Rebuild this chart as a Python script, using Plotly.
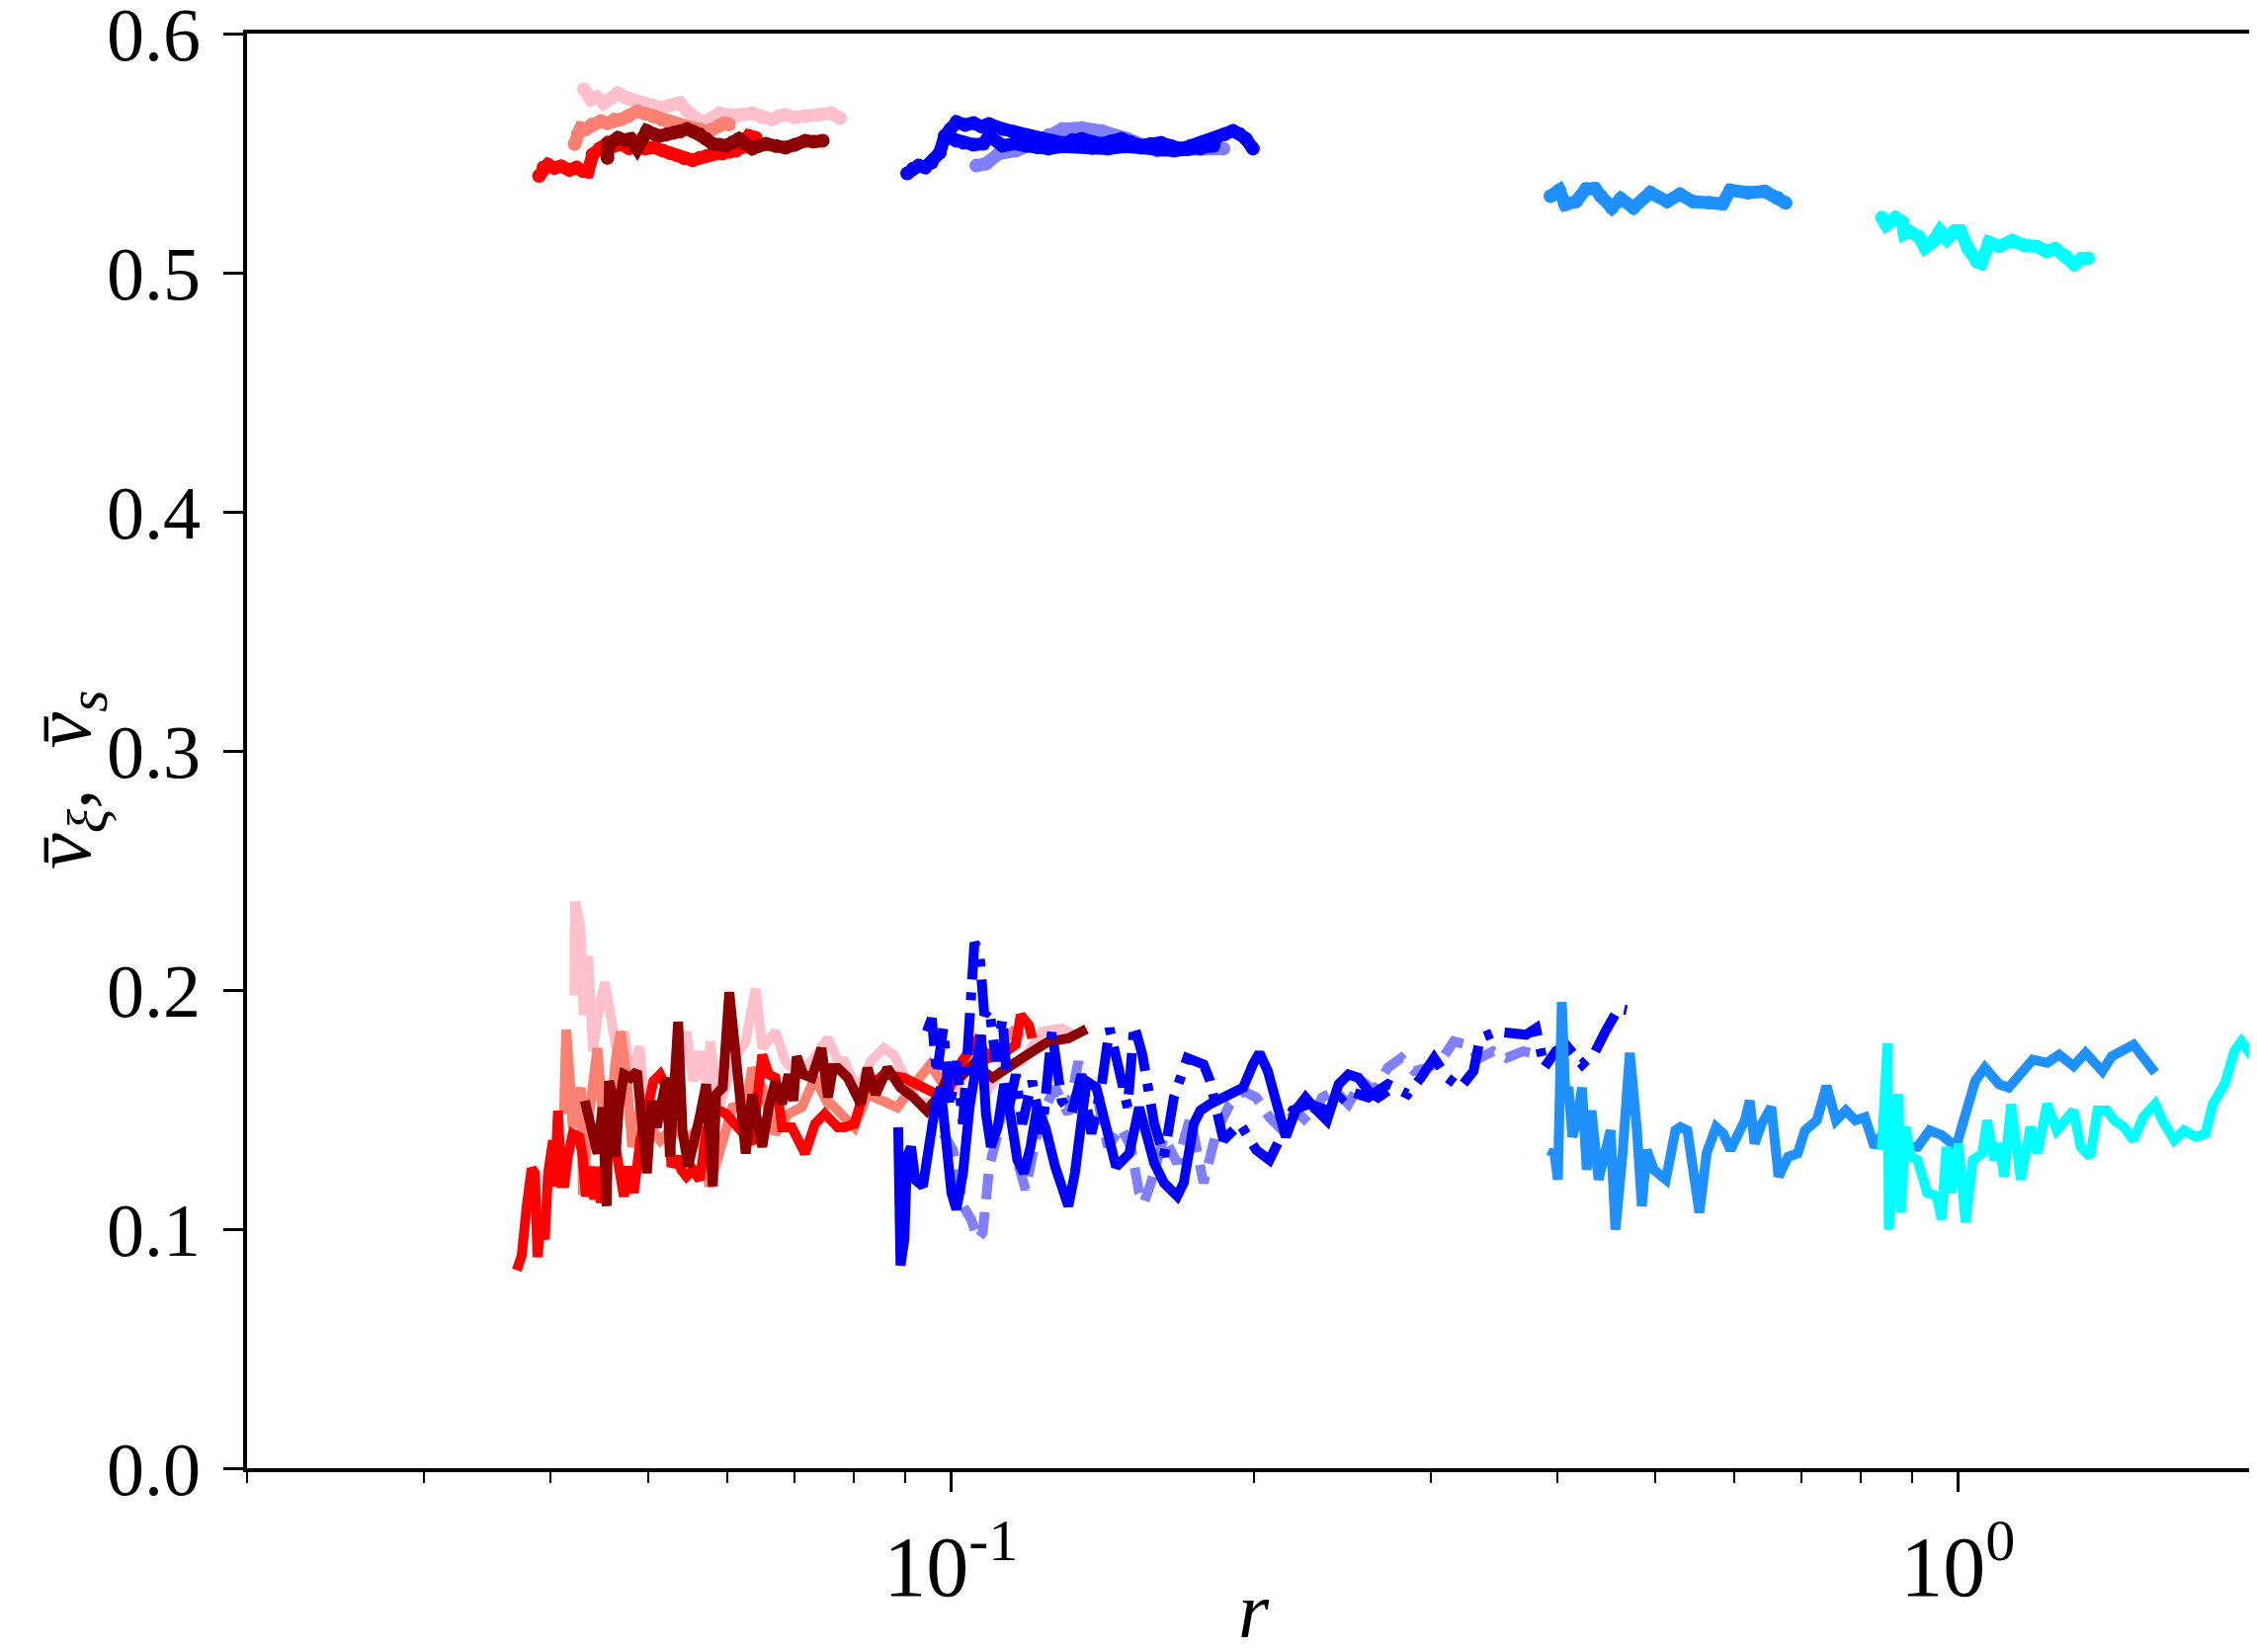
import plotly.graph_objects as go
import math

# ---------------- upper group (v_xi) ----------------
red_top_r = [0.0390, 0.0394, 0.0398, 0.0404, 0.0410, 0.0418, 0.0425, 0.0431, 0.0436, 0.0441, 0.0448, 0.0456, 0.0463, 0.0470, 0.0479, 0.0488, 0.0497, 0.0507, 0.0518, 0.0526, 0.0535, 0.0544, 0.0554, 0.0563, 0.0572, 0.0583, 0.0593, 0.0603, 0.0612, 0.0621, 0.0630, 0.0640]
red_top_v = [0.5405, 0.5440, 0.5452, 0.5438, 0.5445, 0.5430, 0.5440, 0.5425, 0.5422, 0.5495, 0.5520, 0.5543, 0.5530, 0.5538, 0.5520, 0.5531, 0.5519, 0.5524, 0.5510, 0.5500, 0.5490, 0.5478, 0.5470, 0.5480, 0.5488, 0.5498, 0.5498, 0.5505, 0.5510, 0.5525, 0.5572, 0.5564]

salmon_top_r = [0.0423, 0.0426, 0.0429, 0.0434, 0.0440, 0.0449, 0.0456, 0.0463, 0.0470, 0.0478, 0.0488, 0.0497, 0.0506, 0.0516, 0.0526, 0.0540, 0.0554, 0.0563, 0.0572, 0.0580, 0.0589, 0.0596, 0.0602]
salmon_top_v = [0.5538, 0.5580, 0.5605, 0.5600, 0.5620, 0.5634, 0.5625, 0.5640, 0.5640, 0.5655, 0.5675, 0.5665, 0.5655, 0.5640, 0.5620, 0.5615, 0.5605, 0.5600, 0.5590, 0.5600, 0.5615, 0.5625, 0.5620]

pink_top_r = [0.0432, 0.0439, 0.0445, 0.0452, 0.0460, 0.0467, 0.0474, 0.0481, 0.0488, 0.0495, 0.0505, 0.0514, 0.0526, 0.0538, 0.0546, 0.0554, 0.0567, 0.0578, 0.0589, 0.0600, 0.0612, 0.0624, 0.0635, 0.0650, 0.0664, 0.0675, 0.0685, 0.0700, 0.0717, 0.0738, 0.0760, 0.0776]
pink_top_v = [0.5767, 0.5725, 0.5735, 0.5708, 0.5730, 0.5750, 0.5735, 0.5725, 0.5715, 0.5710, 0.5700, 0.5690, 0.5700, 0.5710, 0.5680, 0.5655, 0.5626, 0.5645, 0.5667, 0.5660, 0.5655, 0.5662, 0.5667, 0.5650, 0.5640, 0.5655, 0.5660, 0.5650, 0.5655, 0.5660, 0.5667, 0.5647]

darkred_top_r = [0.0456, 0.0457, 0.0462, 0.0467, 0.0474, 0.0481, 0.0488, 0.0494, 0.0499, 0.0507, 0.0514, 0.0522, 0.0530, 0.0538, 0.0547, 0.0555, 0.0563, 0.0571, 0.0580, 0.0589, 0.0598, 0.0607, 0.0616, 0.0625, 0.0635, 0.0645, 0.0655, 0.0670, 0.0685, 0.0700, 0.0717, 0.0731, 0.0746]
darkred_top_v = [0.5480, 0.5539, 0.5550, 0.5564, 0.5555, 0.5560, 0.5519, 0.5560, 0.5593, 0.5580, 0.5572, 0.5578, 0.5585, 0.5590, 0.5601, 0.5590, 0.5580, 0.5560, 0.5539, 0.5535, 0.5531, 0.5545, 0.5560, 0.5540, 0.5519, 0.5530, 0.5539, 0.5530, 0.5523, 0.5535, 0.5552, 0.5548, 0.5552]

blue_top_r = [0.0905, 0.0917, 0.0929, 0.0943, 0.0957, 0.0975, 0.0986, 0.0999, 0.1013, 0.1033, 0.1053, 0.1072, 0.1091, 0.1126, 0.1152, 0.1179, 0.1205, 0.1233, 0.1261, 0.1290, 0.1320, 0.1349, 0.1380, 0.1412, 0.1444, 0.1477, 0.1510, 0.1545, 0.1580, 0.1617, 0.1654, 0.1692, 0.1730, 0.1770, 0.1803, 0.1836, 0.1870, 0.1906, 0.1935, 0.1963, 0.1995]
blue_top_v = [0.5415, 0.5435, 0.5448, 0.5440, 0.5461, 0.5502, 0.5572, 0.5600, 0.5630, 0.5618, 0.5626, 0.5612, 0.5622, 0.5601, 0.5590, 0.5572, 0.5566, 0.5560, 0.5552, 0.5543, 0.5555, 0.5560, 0.5548, 0.5539, 0.5550, 0.5560, 0.5545, 0.5531, 0.5538, 0.5543, 0.5530, 0.5519, 0.5530, 0.5543, 0.5552, 0.5564, 0.5578, 0.5593, 0.5580, 0.5560, 0.5519]

blue2_top_r = [0.0995, 0.1012, 0.1029, 0.1053, 0.1077, 0.1091, 0.1126, 0.1156, 0.1187, 0.1218, 0.1250, 0.1289, 0.1329, 0.1380, 0.1432, 0.1488, 0.1545, 0.1605, 0.1666, 0.1717, 0.1770, 0.1823]
blue2_top_v = [0.5564, 0.5552, 0.5543, 0.5535, 0.5539, 0.5572, 0.5531, 0.5540, 0.5531, 0.5525, 0.5519, 0.5528, 0.5531, 0.5522, 0.5519, 0.5528, 0.5523, 0.5515, 0.5510, 0.5516, 0.5519, 0.5531]

lblue_top_r = [0.1060, 0.1084, 0.1116, 0.1160, 0.1214, 0.1250, 0.1290, 0.1349, 0.1412, 0.1497, 0.1550, 0.1603, 0.1665, 0.1730, 0.1800, 0.1865]
lblue_top_v = [0.5448, 0.5456, 0.5498, 0.5510, 0.5543, 0.5575, 0.5601, 0.5605, 0.5593, 0.5560, 0.5530, 0.5510, 0.5515, 0.5519, 0.5525, 0.5519]

dodger_top_r = [0.394, 0.402, 0.4075, 0.4178, 0.4273, 0.4362, 0.4421, 0.4533, 0.4626, 0.4763, 0.4950, 0.5144, 0.5297, 0.5455, 0.5669, 0.5838, 0.5943, 0.6190, 0.6432, 0.6623, 0.6745]
dodger_top_v = [0.5320, 0.5345, 0.5285, 0.5298, 0.5350, 0.5352, 0.5320, 0.5272, 0.5310, 0.5272, 0.5335, 0.5298, 0.5328, 0.5298, 0.5292, 0.5288, 0.5345, 0.5335, 0.5340, 0.5313, 0.5292]

cyan_top_r = [0.841, 0.849, 0.867, 0.881, 0.885, 0.893, 0.915, 0.928, 0.947, 0.960, 0.975, 0.993, 1.006, 1.024, 1.046, 1.055, 1.074, 1.099, 1.132, 1.163, 1.197, 1.225, 1.250, 1.279, 1.305, 1.328, 1.347]
cyan_top_v = [0.5230, 0.5200, 0.5230, 0.5212, 0.5165, 0.5175, 0.5150, 0.5105, 0.5134, 0.5175, 0.5140, 0.5175, 0.5175, 0.5100, 0.5045, 0.5040, 0.5127, 0.5110, 0.5134, 0.5115, 0.5110, 0.5090, 0.5100, 0.5070, 0.5035, 0.5060, 0.5060]

# ---------------- lower group (v_s) ----------------
red_bot_r = [0.03706, 0.03748, 0.03791, 0.03834, 0.03863, 0.03877, 0.03886, 0.03915, 0.03951, 0.03981, 0.04005, 0.04026, 0.04042, 0.04072, 0.04103, 0.04134, 0.04165, 0.04212, 0.04276, 0.04308, 0.04341, 0.04390, 0.04424, 0.04457, 0.04491, 0.04558, 0.04593, 0.04645, 0.04734, 0.04788, 0.04843, 0.04916, 0.04990, 0.05066, 0.05143, 0.05221, 0.05280, 0.05340, 0.05401, 0.05463, 0.05546, 0.05630, 0.05715, 0.05802, 0.05980, 0.06070, 0.06256, 0.06350, 0.06496, 0.06595, 0.06695, 0.06797, 0.06951, 0.07165, 0.07330, 0.07495, 0.07723, 0.07840, 0.08020, 0.08202, 0.08582, 0.08979, 0.09394, 0.09681, 0.09976, 0.10204, 0.10594, 0.10919, 0.11340, 0.11598, 0.11730, 0.11953, 0.12044]
red_bot_v = [0.0828, 0.0889, 0.1096, 0.1254, 0.1234, 0.1027, 0.0883, 0.1013, 0.0958, 0.1234, 0.1344, 0.1371, 0.1179, 0.1495, 0.1192, 0.1192, 0.1303, 0.1399, 0.1385, 0.1303, 0.1137, 0.1261, 0.1124, 0.1261, 0.1110, 0.1371, 0.1509, 0.1344, 0.1137, 0.1261, 0.1151, 0.1371, 0.1509, 0.1619, 0.1647, 0.1592, 0.1261, 0.1303, 0.1247, 0.1220, 0.1247, 0.1206, 0.1399, 0.1509, 0.1482, 0.1454, 0.1385, 0.1358, 0.1729, 0.1647, 0.1633, 0.1426, 0.1426, 0.1316, 0.1440, 0.1482, 0.1426, 0.1426, 0.1440, 0.1578, 0.1647, 0.1633, 0.1592, 0.1564, 0.1592, 0.1688, 0.1785, 0.1716, 0.1743, 0.1771, 0.1895, 0.1853, 0.1798]

salmon_bot_r = [0.04128, 0.04150, 0.04181, 0.04212, 0.04260, 0.04292, 0.04312, 0.04374, 0.04457, 0.04508, 0.04552, 0.04645, 0.04698, 0.04762, 0.04825, 0.04916, 0.05028, 0.05143, 0.05300, 0.05463, 0.05630, 0.05758, 0.05890, 0.06070, 0.06256, 0.06350, 0.06496, 0.06695, 0.06899, 0.07110, 0.07330, 0.07551, 0.07608, 0.08020, 0.08264, 0.08648, 0.08845, 0.09253, 0.09537, 0.09828, 0.10204, 0.10515, 0.10919, 0.11253, 0.11513, 0.11774]
salmon_bot_v = [0.1482, 0.1833, 0.1647, 0.1426, 0.1537, 0.1592, 0.1144, 0.1482, 0.1757, 0.1509, 0.1261, 0.1702, 0.1826, 0.1647, 0.1344, 0.1509, 0.1426, 0.1371, 0.1426, 0.1371, 0.1426, 0.1179, 0.1316, 0.1509, 0.1523, 0.1674, 0.1592, 0.1399, 0.1482, 0.1509, 0.1633, 0.1523, 0.1523, 0.1426, 0.1564, 0.1523, 0.1509, 0.1619, 0.1688, 0.1606, 0.1647, 0.1674, 0.1729, 0.1785, 0.1826, 0.1798]

pink_bot_r = [0.04228, 0.04234, 0.04286, 0.04319, 0.04364, 0.04411, 0.04457, 0.04531, 0.04593, 0.04663, 0.04741, 0.04806, 0.04909, 0.04960, 0.05066, 0.05221, 0.05360, 0.05463, 0.05546, 0.05630, 0.05736, 0.05767, 0.05890, 0.06070, 0.06256, 0.06399, 0.06496, 0.06695, 0.06848, 0.07057, 0.07275, 0.07551, 0.07723, 0.07840, 0.08080, 0.08327, 0.08582, 0.08778, 0.08979, 0.09253, 0.09537, 0.09828, 0.10127, 0.10436, 0.10755, 0.10919, 0.11253, 0.11774, 0.12318, 0.12886, 0.13279]
pink_bot_v = [0.1977, 0.2370, 0.2266, 0.1895, 0.2143, 0.1743, 0.1881, 0.2032, 0.1895, 0.1729, 0.1826, 0.1619, 0.1764, 0.1509, 0.1426, 0.1509, 0.1702, 0.1826, 0.1619, 0.1743, 0.1564, 0.1785, 0.1509, 0.1702, 0.1785, 0.2005, 0.1757, 0.1826, 0.1702, 0.1647, 0.1702, 0.1798, 0.1702, 0.1702, 0.1578, 0.1702, 0.1757, 0.1729, 0.1647, 0.1537, 0.1523, 0.1537, 0.1578, 0.1702, 0.1619, 0.1592, 0.1674, 0.1702, 0.1826, 0.1840, 0.1812]

darkred_bot_r = [0.04330, 0.04390, 0.04457, 0.04508, 0.04552, 0.04576, 0.04610, 0.04645, 0.04680, 0.04734, 0.04806, 0.04879, 0.04934, 0.04990, 0.05047, 0.05104, 0.05221, 0.05260, 0.05360, 0.05413, 0.05483, 0.05567, 0.05630, 0.05715, 0.05802, 0.05846, 0.05935, 0.06025, 0.06117, 0.06256, 0.06350, 0.06496, 0.06595, 0.06695, 0.06797, 0.06899, 0.06977, 0.07030, 0.07136, 0.07275, 0.07440, 0.07551, 0.07637, 0.07723, 0.07899, 0.08141, 0.08264, 0.08422, 0.08648, 0.08912, 0.09184, 0.09465, 0.09754, 0.09976, 0.10204, 0.10515, 0.11002, 0.11340, 0.11774, 0.12505, 0.13081, 0.13481, 0.13636]
darkred_bot_v = [0.1537, 0.1426, 0.1316, 0.1509, 0.1096, 0.1619, 0.1564, 0.1303, 0.1509, 0.1647, 0.1633, 0.1660, 0.1468, 0.1234, 0.1537, 0.1426, 0.1633, 0.1303, 0.1867, 0.1413, 0.1261, 0.1371, 0.1468, 0.1606, 0.1179, 0.1564, 0.1592, 0.1991, 0.1702, 0.1316, 0.1564, 0.1344, 0.1509, 0.1619, 0.1523, 0.1647, 0.1537, 0.1722, 0.1647, 0.1633, 0.1757, 0.1551, 0.1674, 0.1674, 0.1633, 0.1523, 0.1674, 0.1564, 0.1674, 0.1592, 0.1551, 0.1495, 0.1564, 0.1661, 0.1633, 0.1688, 0.1633, 0.1674, 0.1716, 0.1785, 0.1798, 0.1826, 0.1837]

blue_bot_r = [0.08865, 0.08912, 0.08992, 0.09047, 0.09129, 0.09218, 0.09380, 0.09537, 0.09644, 0.09769, 0.09865, 0.10014, 0.10127, 0.10281, 0.10436, 0.10594, 0.10715, 0.10836, 0.10960, 0.11130, 0.11298, 0.11468, 0.11642, 0.11818, 0.11998, 0.12180, 0.12411, 0.12694, 0.13081, 0.13279, 0.13636, 0.13948, 0.14319, 0.14590, 0.15037, 0.15381, 0.1592, 0.1628, 0.1678, 0.1703, 0.1743, 0.1769, 0.1809, 0.1865, 0.1907, 0.1951, 0.1995, 0.2025, 0.2064, 0.2103, 0.2151, 0.2200, 0.2250, 0.2301, 0.2363, 0.2427, 0.2482, 0.2539, 0.2597, 0.2656, 0.2716]
blue_bot_v = [0.1426, 0.0848, 0.0958, 0.1303, 0.1344, 0.1206, 0.1179, 0.1399, 0.1509, 0.1592, 0.1399, 0.1151, 0.1082, 0.1234, 0.1509, 0.1729, 0.1812, 0.1482, 0.1344, 0.1426, 0.1606, 0.1468, 0.1289, 0.1234, 0.1344, 0.1509, 0.1426, 0.1261, 0.1096, 0.1234, 0.1619, 0.1592, 0.1371, 0.1261, 0.1316, 0.1509, 0.1276, 0.1193, 0.1138, 0.1193, 0.1441, 0.1496, 0.1523, 0.1551, 0.1578, 0.1592, 0.1689, 0.1737, 0.1661, 0.1537, 0.1386, 0.1496, 0.1551, 0.1503, 0.1455, 0.1606, 0.1647, 0.1633, 0.1578, 0.1551, 0.1578]

bluedd_bot_r = [0.09465, 0.09573, 0.09681, 0.09828, 0.09976, 0.10127, 0.10281, 0.10436, 0.10554, 0.10675, 0.10795, 0.10919, 0.11087, 0.11253, 0.11425, 0.11598, 0.11774, 0.12044, 0.12318, 0.12599, 0.12886, 0.13180, 0.13481, 0.13791, 0.14106, 0.14373, 0.14645, 0.14980, 0.15207, 0.15496, 0.1592, 0.1628, 0.1665, 0.1717, 0.1782, 0.1809, 0.1865, 0.1937, 0.2010, 0.2072, 0.2119, 0.2184, 0.2267, 0.2371, 0.2482, 0.2597, 0.2716, 0.2842, 0.2929, 0.3019, 0.3112, 0.3206, 0.3304, 0.3354, 0.3483, 0.3617, 0.3727, 0.3812, 0.3884, 0.3989, 0.4080, 0.4236, 0.4366, 0.4466, 0.4603, 0.4690]
bluedd_bot_v = [0.1826, 0.1881, 0.1647, 0.1840, 0.1509, 0.1702, 0.1440, 0.1922, 0.2198, 0.2156, 0.1895, 0.1922, 0.1702, 0.1881, 0.1509, 0.1647, 0.1440, 0.1619, 0.1399, 0.1826, 0.1537, 0.1482, 0.1647, 0.1399, 0.1592, 0.1840, 0.1702, 0.1509, 0.1853, 0.1729, 0.1441, 0.1303, 0.1551, 0.1716, 0.1689, 0.1620, 0.1372, 0.1441, 0.1331, 0.1289, 0.1372, 0.1496, 0.1523, 0.1496, 0.1578, 0.1551, 0.1606, 0.1565, 0.1633, 0.1716, 0.1633, 0.1592, 0.1661, 0.1799, 0.1826, 0.1813, 0.1813, 0.1840, 0.1675, 0.1744, 0.1771, 0.1689, 0.1744, 0.1826, 0.1923, 0.1916]

lblue_bot_r = [0.09828, 0.10051, 0.10281, 0.10475, 0.10634, 0.10755, 0.10919, 0.11130, 0.11340, 0.11513, 0.11686, 0.11863, 0.12134, 0.12411, 0.12694, 0.13081, 0.13382, 0.13687, 0.14001, 0.14319, 0.14756, 0.15094, 0.15381, 0.15554, 0.1580, 0.1628, 0.1678, 0.1729, 0.1782, 0.1837, 0.1893, 0.1951, 0.2010, 0.2072, 0.2135, 0.2200, 0.2268, 0.2337, 0.2408, 0.2482, 0.2558, 0.2636, 0.2716, 0.2800, 0.2885, 0.2973, 0.3064, 0.3158, 0.3255, 0.3354, 0.3456, 0.3562, 0.3700, 0.3841]
lblue_bot_v = [0.1399, 0.1330, 0.1096, 0.1041, 0.0958, 0.0986, 0.1261, 0.1399, 0.1592, 0.1426, 0.1261, 0.1165, 0.1371, 0.1509, 0.1592, 0.1482, 0.1702, 0.1426, 0.1537, 0.1344, 0.1426, 0.1344, 0.1151, 0.1110, 0.1193, 0.1386, 0.1276, 0.1468, 0.1193, 0.1413, 0.1523, 0.1578, 0.1551, 0.1468, 0.1413, 0.1496, 0.1441, 0.1551, 0.1578, 0.1523, 0.1620, 0.1578, 0.1675, 0.1716, 0.1661, 0.1675, 0.1702, 0.1785, 0.1771, 0.1716, 0.1744, 0.1716, 0.1744, 0.1730]

dodger_bot_r = [0.3942, 0.3972, 0.4007, 0.4020, 0.4043, 0.4074, 0.4106, 0.4142, 0.4187, 0.4234, 0.4280, 0.4327, 0.4398, 0.4520, 0.4571, 0.4646, 0.4724, 0.4801, 0.4855, 0.4909, 0.4990, 0.5129, 0.5243, 0.5301, 0.5388, 0.5538, 0.5630, 0.5754, 0.5850, 0.5946, 0.6046, 0.6146, 0.6214, 0.6283, 0.6387, 0.6528, 0.6637, 0.6785, 0.6934, 0.7050, 0.7246, 0.7406, 0.7570, 0.7739, 0.7910, 0.8085, 0.8264, 0.8540, 0.8827, 0.9121, 0.9375, 0.9636, 0.9959, 1.0180, 1.0407, 1.0637, 1.0991, 1.1236, 1.1486, 1.1869, 1.2268, 1.2606, 1.3030, 1.3392, 1.3917, 1.4223, 1.4944, 1.5701]
dodger_bot_v = [0.1303, 0.1331, 0.1207, 0.1496, 0.1950, 0.1579, 0.1592, 0.1386, 0.1455, 0.1592, 0.1248, 0.1496, 0.1207, 0.1413, 0.0998, 0.1317, 0.1737, 0.1413, 0.1096, 0.1331, 0.1248, 0.1207, 0.1413, 0.1427, 0.1413, 0.1069, 0.1317, 0.1427, 0.1399, 0.1331, 0.1386, 0.1455, 0.1537, 0.1358, 0.1441, 0.1510, 0.1220, 0.1303, 0.1317, 0.1413, 0.1455, 0.1599, 0.1455, 0.1496, 0.1455, 0.1468, 0.1344, 0.1441, 0.1344, 0.1344, 0.1413, 0.1393, 0.1344, 0.1496, 0.1620, 0.1675, 0.1606, 0.1592, 0.1634, 0.1709, 0.1696, 0.1730, 0.1682, 0.1737, 0.1661, 0.1723, 0.1771, 0.1654]

cyan_bot_r = [0.8404, 0.8515, 0.8540, 0.8636, 0.8731, 0.8780, 0.8876, 0.8975, 0.9120, 0.9324, 0.9532, 0.9636, 0.9743, 0.9851, 1.0014, 1.0180, 1.0349, 1.0579, 1.0695, 1.0873, 1.0995, 1.1115, 1.1297, 1.1549, 1.1807, 1.2000, 1.2268, 1.2541, 1.2818, 1.3030, 1.3246, 1.3540, 1.3761, 1.4066, 1.4299, 1.4621, 1.4944, 1.5276, 1.5701, 1.5963, 1.6406, 1.6769, 1.7241, 1.7620, 1.7915, 1.8408, 1.8818, 1.9123, 1.9547, 1.9758, 2.0200]
cyan_bot_v = [0.1331, 0.1778, 0.0998, 0.1317, 0.1565, 0.1069, 0.1427, 0.1303, 0.1289, 0.1152, 0.1138, 0.1041, 0.1344, 0.1152, 0.1358, 0.1028, 0.1289, 0.1317, 0.1455, 0.1289, 0.1358, 0.1220, 0.1523, 0.1207, 0.1427, 0.1317, 0.1523, 0.1413, 0.1455, 0.1496, 0.1344, 0.1303, 0.1496, 0.1496, 0.1455, 0.1427, 0.1372, 0.1468, 0.1523, 0.1455, 0.1372, 0.1413, 0.1386, 0.1399, 0.1523, 0.1606, 0.1744, 0.1785, 0.1730, 0.1758, 0.1730]

x_tick_vals = [0.1, 1.0]
x_tick_text = ["10<sup>-1</sup>", "10<sup>0</sup>"]
x_minor_vals = [0.02, 0.03, 0.04, 0.05, 0.06, 0.07, 0.08, 0.09, 0.2, 0.3, 0.4, 0.5, 0.6, 0.7, 0.8, 0.9, 2.0]
y_tick_vals = [0.0, 0.1, 0.2, 0.3, 0.4, 0.5, 0.6]
y_tick_text = ["0.0", "0.1", "0.2", "0.3", "0.4", "0.5", "0.6"]

RED, SALMON, PINK, DARKRED = "#ff0000", "#fa8072", "#ffc0cb", "#8b0000"
BLUE, LBLUE, DODGER, CYAN = "#0000ff", "#8080ff", "#1e90ff", "#00ffff"

fig = go.Figure()

def top(r, v, color):
    fig.add_trace(go.Scatter(x=r, y=v, mode="lines+markers",
                             line=dict(color=color, width=13),
                             marker=dict(color=color, size=14),
                             showlegend=False, hoverinfo="skip"))

def bot(r, v, color, dash="solid", width=10):
    fig.add_trace(go.Scatter(x=r, y=v, mode="lines",
                             line=dict(color=color, width=width, dash=dash),
                             showlegend=False, hoverinfo="skip"))

# upper curves
top(pink_top_r, pink_top_v, PINK)
top(salmon_top_r, salmon_top_v, SALMON)
top(red_top_r, red_top_v, RED)
top(darkred_top_r, darkred_top_v, DARKRED)
top(lblue_top_r, lblue_top_v, LBLUE)
top(blue2_top_r, blue2_top_v, BLUE)
top(blue_top_r, blue_top_v, BLUE)
top(dodger_top_r, dodger_top_v, DODGER)
top(cyan_top_r, cyan_top_v, CYAN)

# lower curves
bot(pink_bot_r, pink_bot_v, PINK)
bot(salmon_bot_r, salmon_bot_v, SALMON)
bot(red_bot_r, red_bot_v, RED)
bot(darkred_bot_r, darkred_bot_v, DARKRED)
bot(lblue_bot_r, lblue_bot_v, LBLUE, dash="26px,13px")
bot(blue_bot_r, blue_bot_v, BLUE)
bot(bluedd_bot_r, bluedd_bot_v, BLUE, dash="42px,13px,8px,13px")
bot(dodger_bot_r, dodger_bot_v, DODGER)
bot(cyan_bot_r, cyan_bot_v, CYAN)

FONT = "Liberation Serif"

fig.update_layout(
    width=2284, height=1672,
    margin=dict(l=242, r=4, t=26, b=194, autoexpand=False),
    paper_bgcolor="white", plot_bgcolor="white",
    font=dict(family=FONT, color="black", size=76),
    xaxis=dict(
        type="log", automargin=False,
        range=[math.log10(0.02), math.log10(2.0)],
        tickmode="array", tickvals=x_tick_vals, ticktext=x_tick_text,
        ticks="outside", ticklen=20, tickwidth=2.5, tickcolor="black",
        ticklabelstandoff=2, ticklabeloverflow="allow",
        minor=dict(tickmode="array", tickvals=x_minor_vals, ticks="outside",
                   ticklen=11, tickwidth=2, tickcolor="black", showgrid=False),
        showgrid=False, zeroline=False,
        showline=True, linecolor="black", linewidth=3.5, mirror=True,
        tickfont=dict(family=FONT, size=86),
    ),
    yaxis=dict(
        automargin=False,
        range=[-1e-9, 0.6 + 1e-9],
        tickmode="array", tickvals=y_tick_vals, ticktext=y_tick_text,
        ticks="outside", ticklen=20, tickwidth=2.5, tickcolor="black",
        ticklabelstandoff=8, ticklabeloverflow="allow",
        showgrid=False, zeroline=False,
        showline=True, linecolor="black", linewidth=3.5, mirror=True,
        tickfont=dict(family=FONT, size=76),
    ),
    annotations=[
        dict(text="<i>r</i>", xref="paper", yref="paper", x=0.5, y=-0.099,
             xanchor="center", yanchor="middle", showarrow=False,
             font=dict(family=FONT, size=80)),
        dict(text="<i>v̄</i><sub><i>ξ</i></sub>,  <i>v̄</i><sub><i>s</i></sub>",
             xref="paper", yref="paper", x=-0.089, y=0.48, textangle=-90,
             xanchor="center", yanchor="middle", showarrow=False,
             font=dict(family=FONT, size=82)),
    ],
)

fig.write_html("out.html")
